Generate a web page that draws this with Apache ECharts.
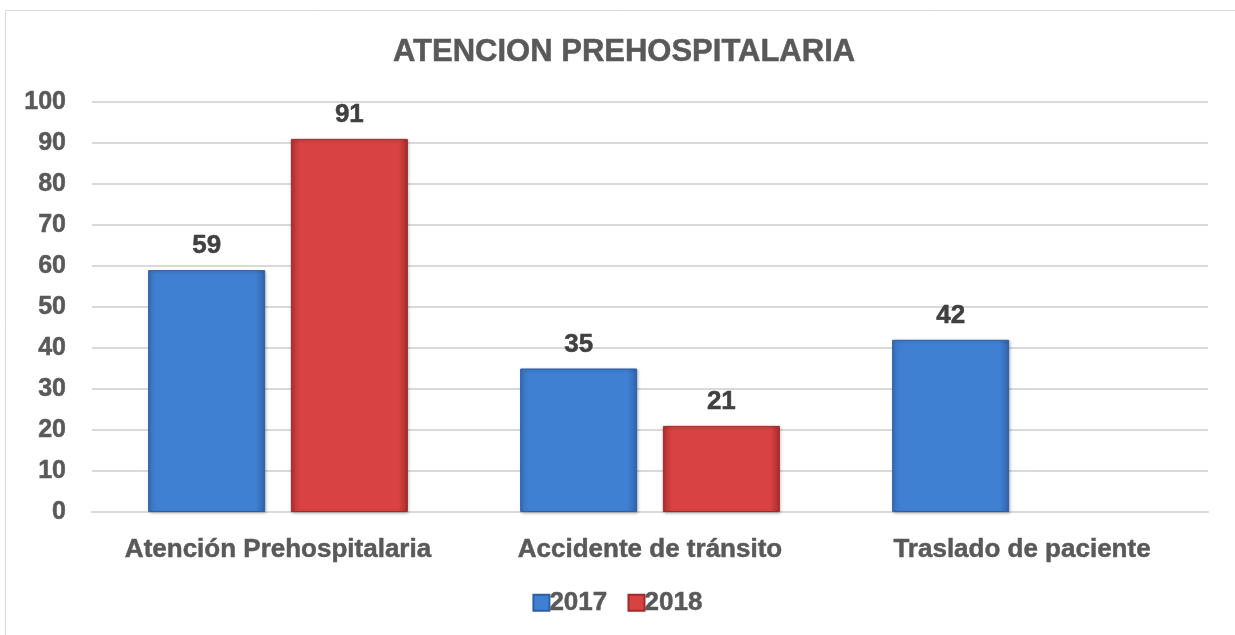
<!DOCTYPE html>
<html>
<head>
<meta charset="utf-8">
<script src="https://cdn.jsdelivr.net/npm/echarts@6/dist/echarts.min.js"></script>
<style>
  html, body { margin: 0; padding: 0; background: #fff; }
  #chart-container { width: 1235px; height: 635px; }
</style>
</head>
<body>
<div id="chart-container"></div>
<script>
const categories = ['Atención Prehospitalaria', 'Accidente de tránsito', 'Traslado de paciente'];
const years = ['2017', '2018'];
const values2017 = [59, 35, 42];
const values2018 = [91, 21, null];

const chartContainer = document.getElementById('chart-container');
const myChart = echarts.init(chartContainer);

const fontFam = 'Liberation Sans, Arial, sans-serif';

const blueFill = new echarts.graphic.LinearGradient(0, 0, 1, 0, [
    { offset: 0, color: '#3b73c0' },
    { offset: 0.08, color: '#3f80d3' },
    { offset: 0.92, color: '#3f80d3' },
    { offset: 1, color: '#2f64ad' }
]);
const redFill = new echarts.graphic.LinearGradient(0, 0, 1, 0, [
    { offset: 0, color: '#b83232' },
    { offset: 0.08, color: '#d94242' },
    { offset: 0.92, color: '#d94242' },
    { offset: 1, color: '#a82c2c' }
]);

const labelStyle = {
    show: true,
    position: 'top',
    distance: 11,
    color: '#404040',
    fontSize: 26,
    fontWeight: 'bold',
    fontFamily: fontFam,
    textBorderColor: '#404040',
    textBorderWidth: 0.5
};

const options = {
    backgroundColor: '#ffffff',
    animation: false,
    graphic: [{
        type: 'rect',
        shape: { x: 5.5, y: 10.5, width: 1400, height: 800 },
        style: { fill: 'none', stroke: '#d9d9d9', lineWidth: 1 },
        silent: true
    }],
    title: {
        text: 'ATENCION PREHOSPITALARIA',
        left: 388,
        top: 32,
        textStyle: {
            color: '#595959',
            fontSize: 31,
            fontWeight: 'bold',
            fontFamily: fontFam,
            textBorderColor: '#595959',
            textBorderWidth: 0.5
        }
    },
    legend: {
        data: years,
        bottom: 14,
        left: 'center',
        itemWidth: 16,
        itemHeight: 16,
        itemGap: 20,
        icon: 'rect',
        textStyle: {
            color: '#595959',
            fontSize: 26,
            fontWeight: 'bold',
            fontFamily: fontFam,
            textBorderColor: '#595959',
            textBorderWidth: 0.5,
            padding: [0, 0, 0, -5]
        }
    },
    grid: {
        left: 92,
        right: 27,
        top: 102,
        bottom: 123,
        containLabel: false
    },
    xAxis: {
        type: 'category',
        data: categories,
        axisLine: { lineStyle: { color: '#d9d9d9', width: 2 } },
        axisTick: { show: false },
        axisLabel: {
            interval: 0,
            color: '#595959',
            fontSize: 26,
            fontWeight: 'bold',
            fontFamily: fontFam,
            textBorderColor: '#595959',
            textBorderWidth: 0.5,
            margin: 25
        }
    },
    yAxis: {
        type: 'value',
        min: 0,
        max: 100,
        interval: 10,
        axisLine: { show: false },
        axisTick: { show: false },
        splitLine: { lineStyle: { color: '#d9d9d9', width: 2 } },
        axisLabel: {
            color: '#595959',
            fontSize: 25,
            fontWeight: 'bold',
            fontFamily: fontFam,
            textBorderColor: '#595959',
            textBorderWidth: 0.5,
            margin: 26
        }
    },
    series: [{
        name: '2017',
        type: 'bar',
        data: values2017,
        barWidth: 117,
        barGap: '22%',
        itemStyle: {
            color: blueFill,
            borderColor: '#2d5fa6',
            borderWidth: 1,
            shadowColor: 'rgba(0,0,0,0.25)',
            shadowBlur: 3,
            shadowOffsetX: 1,
            shadowOffsetY: 1
        },
        label: labelStyle
    }, {
        name: '2018',
        type: 'bar',
        data: values2018,
        barWidth: 117,
        itemStyle: {
            color: redFill,
            borderColor: '#a02a2a',
            borderWidth: 1,
            shadowColor: 'rgba(0,0,0,0.25)',
            shadowBlur: 3,
            shadowOffsetX: 1,
            shadowOffsetY: 1
        },
        label: labelStyle
    }]
};

myChart.setOption(options);

window.addEventListener('resize', function () {
    myChart.resize();
});
</script>
</body>
</html>
